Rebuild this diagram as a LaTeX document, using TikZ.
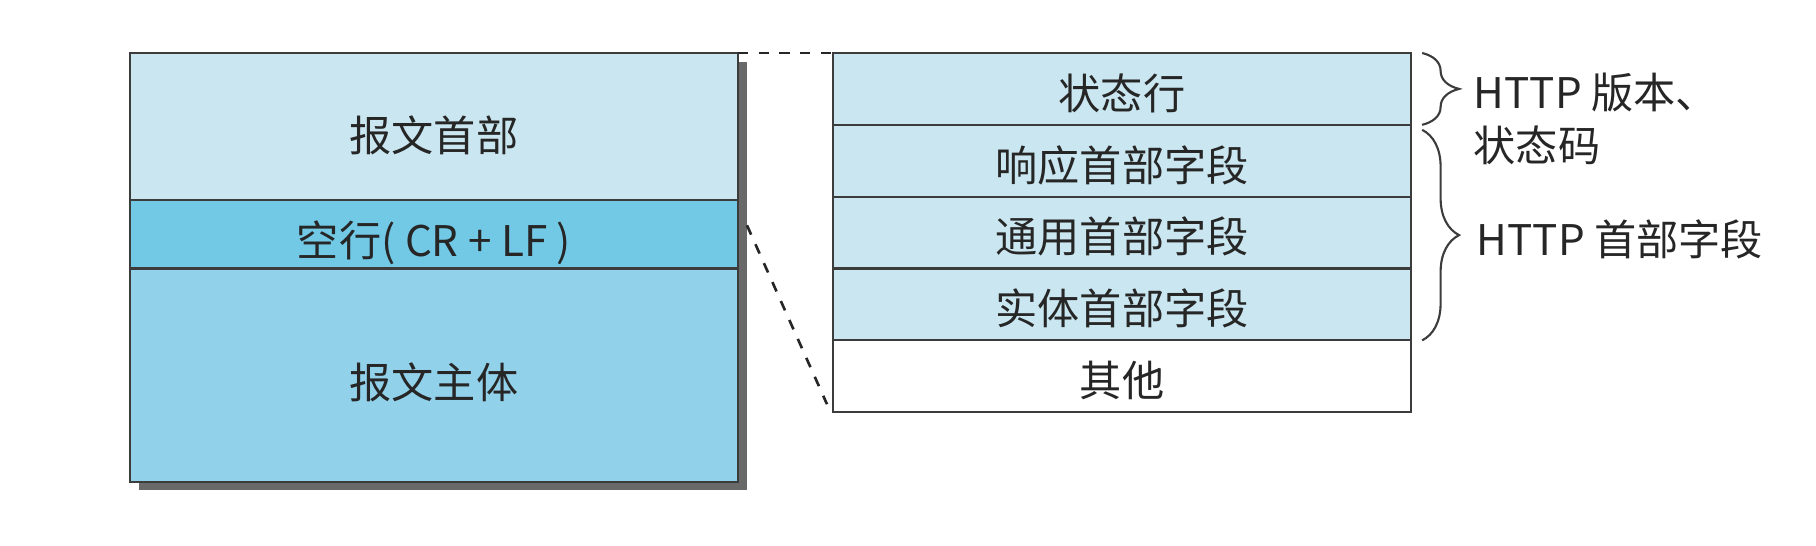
\documentclass[tikz,border=0pt]{standalone}
\usepackage{fontspec}
\setmainfont{Noto Sans CJK SC}
\usetikzlibrary{positioning,decorations.pathreplacing,calc}
\definecolor{hdrblue}{RGB}{202,231,241}
\definecolor{crlfblue}{RGB}{114,201,229}
\definecolor{bodyblue}{RGB}{146,209,234}
\definecolor{linegray}{RGB}{60,60,60}
\definecolor{shadowgray}{RGB}{105,105,105}

\begin{document}
\begin{tikzpicture}[x=0.01cm, y=-0.01cm,
  every node/.style={font=\fontsize{12pt}{15pt}\selectfont, text=black!85},
  msgcell/.style={draw=linegray, line width=0.6pt, minimum width=6.076cm,
    inner sep=0pt, outer sep=0pt, text depth=1.4pt},
  fieldcell/.style={draw=linegray, line width=0.6pt, fill=hdrblue,
    minimum width=5.778cm, minimum height=0.718cm, inner sep=0pt, outer sep=0pt,
    text height=13pt, text depth=1.4pt},
  zoomline/.style={black!85, line width=0.75pt, dash pattern=on 2.9pt off 3pt},
  curly/.style={draw=linegray, line width=0.6pt,
    decorate, decoration={brace, amplitude=10.5pt}}]

\useasboundingbox (0,0) rectangle (1816,546);

% --- Left: whole message with shadow ---
\fill[shadowgray] (139,62) rectangle (747,490);
\node[msgcell, fill=hdrblue, minimum height=1.47cm, text height=15.6pt,
  anchor=north west] (head) at (130,53) {报文首部};
\node[msgcell, fill=crlfblue, minimum height=0.684cm, text height=13.8pt,
  below=0pt of head] (crlf) {空行( CR + LF )};
\node[msgcell, fill=bodyblue, minimum height=2.13cm, text height=14.6pt,
  below=0pt of crlf] (body) {报文主体};

% --- Right: header fields ---
\node[fieldcell, anchor=north west] (status) at (833,53) {状态行};
\node[fieldcell, below=0pt of status] (resp) {响应首部字段};
\node[fieldcell, below=0pt of resp] (general) {通用首部字段};
\node[fieldcell, below=0pt of general] (entity) {实体首部字段};
\node[fieldcell, fill=white, below=0pt of entity] (other) {其他};

% --- Zoom lines ---
\coordinate (crlfout) at ($(crlf.east)+(9,-9)$);
\draw[zoomline] (head.north east) -- (status.north west);
\draw[zoomline] (crlfout) -- ($(other.south west)+(-6,-8)$);

% --- Braces and labels ---
\draw[curly] ($(status.north east)+(11,0)$) -- ($(status.south east)+(11,0)$);
\draw[curly] ($(resp.north east)+(11,5)$) -- ($(entity.south east)+(11,0)$);
\node[anchor=west, align=left, inner sep=0pt] (verlbl) at (1473,119)
  {HTTP 版本、\\状态码};
\node[anchor=west, inner sep=0pt] (hdrlbl) at (1476,239) {HTTP 首部字段};

\end{tikzpicture}
\end{document}
